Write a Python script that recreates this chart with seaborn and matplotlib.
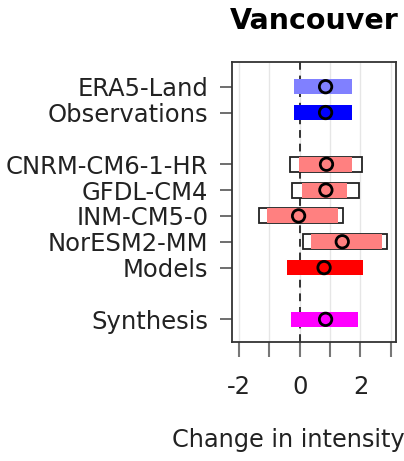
import matplotlib
matplotlib.use("Agg")
import matplotlib.pyplot as plt
import seaborn as sns
import pandas as pd

# ---- data ----
labels = ["ERA5-Land", "Observations", "CNRM-CM6-1-HR", "GFDL-CM4",
          "INM-CM5-0", "NorESM2-MM", "Models", "Synthesis"]
positions = [1, 2, 4, 5, 6, 7, 8, 10]
best = [0.85, 0.85, 0.88, 0.86, -0.04, 1.40, 0.80, 0.85]
low = [-0.19, -0.19, -0.02, 0.07, -1.07, 0.38, -0.42, -0.30]
high = [1.73, 1.73, 1.71, 1.57, 1.27, 2.71, 2.10, 1.91]
# outer (model + noise) ranges for individual models
outer_low = [None, None, -0.33, -0.26, -1.36, 0.11, None, None]
outer_high = [None, None, 2.06, 1.96, 1.44, 2.88, None, None]
colors = ["#8080ff", "#0000ff", "#ff8080", "#ff8080",
          "#ff8080", "#ff8080", "#ff0000", "#ff00ff"]
xticks = [-2, -1, 0, 1, 2, 3]
xticklabels = ["-2", "", "0", "", "2", ""]

df = pd.DataFrame({"label": labels, "pos": positions, "best": best,
                   "low": low, "high": high, "color": colors})

sns.set_style("white")
plt.rcParams["font.family"] = ["DejaVu Sans"]

fig = plt.figure(figsize=(4.04, 4.61), dpi=100)
ax = fig.add_axes([0.574, 0.258, 0.406, 0.6075])

h = 0.58
for xv in xticks:
    ax.axvline(xv, color="#e6e6e6", lw=1.0, zorder=0)
ax.axvline(0, color="#333333", lw=1.4, ls=(0, (4, 3)), zorder=1)

for i, row in df.iterrows():
    ol, oh = outer_low[i], outer_high[i]
    if ol is not None:
        ax.barh(row["pos"], oh - ol, left=ol, height=h, color="white",
                edgecolor="#222222", linewidth=1.3, zorder=2)
    ax.barh(row["pos"], row["high"] - row["low"], left=row["low"], height=h,
            color=row["color"], edgecolor="none", linewidth=0, zorder=3)

sns.scatterplot(data=df, x="best", y="pos", hue="label",
                palette=dict(zip(labels, colors)), s=80, edgecolor="black",
                linewidth=2.0, legend=False, zorder=4, ax=ax)

ax.set_xlim(-2.24, 3.17)
ax.set_ylim(10.88, 0.045)
ax.set_yticks(positions)
ax.set_yticklabels(labels, fontsize=17.5, color="#222222")
ax.set_xticks(xticks)
ax.set_xticklabels(xticklabels, fontsize=17.5, color="#222222")
ax.tick_params(axis="y", length=9, width=1.2, color="#555555", pad=8, left=True)
ax.tick_params(axis="x", length=11, width=1.5, color="#777777", pad=13, bottom=True)
ax.set_xlabel("")
ax.set_ylabel("")
for sp in ax.spines.values():
    sp.set_visible(True)
    sp.set_color("#333333")
    sp.set_linewidth(1.3)

ax.set_title("Vancouver", fontsize=20.5, fontweight="bold", pad=24, color="black")
fig.text(172 / 404, 1 - 440 / 461, "Change in intensity", fontsize=17.3,
         ha="left", va="center", color="#222222")

fig.savefig("out.png", dpi=100)
